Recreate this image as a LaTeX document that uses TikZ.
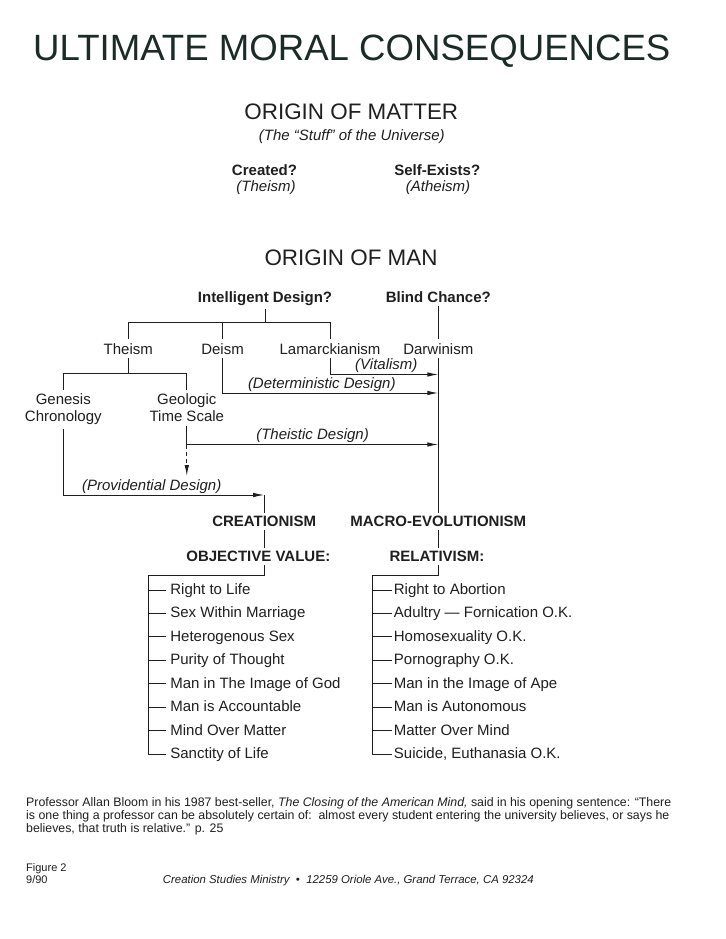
\documentclass[tikz,border=0pt]{standalone}
\usepackage{fontspec}
\setmainfont{Liberation Sans}
\usetikzlibrary{arrows.meta}

\definecolor{title ink}{HTML}{1B2B27}
\colorlet{ink}{black!88}
\def\bodysize{\fontsize{15}{16.7}\selectfont}
\tikzset{headline/.style={font=\fontsize{36.6}{40}\selectfont, text=title ink, anchor=base, inner sep=0pt},
    origin/.style={font=\fontsize{22.4}{26}\selectfont, anchor=base, inner sep=0pt},
    note/.style={font=\bodysize\itshape, anchor=base, inner sep=0pt},
    query/.style={font=\bodysize\bfseries, anchor=base, inner sep=3pt},
    branch/.style={font=\bodysize, anchor=base, inner sep=4pt},
    tag/.style={font=\bodysize\itshape, inner sep=1pt, above},
    value/.style={font=\bodysize, anchor=west, inner xsep=4.5pt, inner ysep=0pt, text height=11pt, text depth=2.4pt},
    link/.style={draw=ink, line width=1pt},
    flow/.style={link, -{Latex[length=11pt,width=4.5pt]}},
    small/.style={font=\fontsize{12.35}{13.4}\selectfont, inner sep=0pt}}

\begin{document}
\begin{tikzpicture}[x=1pt, y=-1pt, color=ink]
    \useasboundingbox[fill=white] (0,0) rectangle (725,939);

    \node[headline] (title) at (351.8,60.7) {ULTIMATE MORAL CONSEQUENCES};

    \node[origin] (matter) at (351.3,120) {ORIGIN OF MATTER};
    \node[note] (stuff) at (351.8,140.7) {(The “Stuff” of the Universe)};
    \node[query, inner sep=0pt] (created) at (264.5,175) {Created?};
    \node[note] (theist) at (266,191.7) {(Theism)};
    \node[query, inner sep=0pt] (selfexists) at (437.3,175) {Self-Exists?};
    \node[note] (atheist) at (438,191.7) {(Atheism)};

    \node[origin] (man) at (351,265) {ORIGIN OF MAN};
    \node[query] (design) at (265,302.7) {Intelligent Design?};
    \node[query] (chance) at (438.3,302.7) {Blind Chance?};

    \node[branch] (theism) at (128.3,354) {Theism};
    \node[branch] (deism) at (222.5,354) {Deism};
    \node[branch] (lamarck) at (330,354) {Lamarckianism};
    \node[branch] (darwin) at (438.3,354) {Darwinism};
    \node[branch, anchor=north, align=center] (genesis) at (63.3,389.9) {Genesis\\Chronology};
    \node[branch, anchor=north, align=center] (geologic) at (186.8,389.9) {Geologic\\Time Scale};

    \node[query] (creation) at (264.2,526.7) {CREATIONISM};
    \node[query] (macro) at (438.3,526.7) {MACRO-EVOLUTIONISM};
    \node[query] (objective) at (258.3,561.7) {OBJECTIVE VALUE:};
    \node[query] (relative) at (437,561.7) {RELATIVISM:};

    \coordinate (fork) at (265,322.7);
    \coordinate (split) at (128.3,373.3);
    \coordinate (vitalism) at (438.3,374.5);
    \coordinate (determinism) at (438.3,393);
    \coordinate (theistic) at (438.3,444.5);
    \coordinate (providence) at (186.8,476);
    \coordinate (creed) at (264.2,495);
    \coordinate (valfork) at (264.2,575);
    \coordinate (valroot) at (148.3,575);
    \coordinate (relfork) at (438.3,575);
    \coordinate (relroot) at (372.3,575);

    \draw[link] (design.south) -- (fork);
    \draw[link] (theism.north) |- (fork) -| (lamarck.north);
    \draw[link] (deism.north) -- (deism.north |- fork);
    \draw[link] (chance.south) -- (darwin.north);
    \draw[link] (darwin.south) -- (macro.north);
    \draw[link] (theism.south) -- (split);
    \draw[link] (genesis.north) |- (split) -| (geologic.north);

    \draw[flow] (lamarck.south) |- (vitalism) node[tag, pos=0.76] {(Vitalism)};
    \draw[flow] (deism.south) |- (determinism) node[tag, pos=0.73] {(Deterministic Design)};
    \draw[flow] (geologic.south) |- (theistic) node[tag, pos=0.75] {(Theistic Design)};
    \draw[flow, dash pattern=on 4pt off 3pt] (geologic.south |- theistic) -- (providence);
    \draw[flow] (genesis.south) |- (creed) node[tag, pos=0.72] {(Providential Design)};
    \draw[link] (creed) -- (creation.north);
    \draw[link] (creation.south) -- (creation.south |- objective.north);
    \draw[link] (macro.south) -- (relative.north -| macro.south);

    \foreach \txt [count=\i] in {Right to Life, Sex Within Marriage, Heterogenous Sex, Purity of Thought,
        Man in The Image of God, Man is Accountable, Mind Over Matter, Sanctity of Life}
        \node[value] (val\i) at (165.7,{590+23.47*(\i-1)}) {\txt};
    \foreach \txt [count=\i] in {Right to Abortion, Adultry — Fornication O.K., Homosexuality O.K., Pornography O.K.,
        Man in the Image of Ape, Man is Autonomous, Matter Over Mind, {Suicide, Euthanasia O.K.}}
        \node[value, inner xsep=2pt] (rel\i) at (391.7,{590+23.47*(\i-1)}) {\txt};

    \draw[link] (objective.south -| valfork) -- (valfork) -- (valroot) |- (val8.west);
    \draw[link] (relative.south -| relfork) -- (relfork) -- (relroot) |- (rel8.west);
    \foreach \i in {1,...,7} {
        \draw[link] (valroot |- val\i.west) -- (val\i.west);
        \draw[link] (relroot |- rel\i.west) -- (rel\i.west);
    }

    \node[small, anchor=north west, align=left] (bloom) at (26,797) {Professor Allan Bloom in his 1987 best-seller, \textit{The Closing of the American Mind,} said in his opening sentence: “There\\
        is one thing a professor can be absolutely certain of:\ \ almost every student entering the university believes, or says he\\
        believes, that truth is relative.” p. 25};
    \node[anchor=north west, align=left, font=\fontsize{11}{11.6}\selectfont, inner sep=0pt] (figno) at (26,863.7) {Figure 2\\9/90};
    \node[anchor=base west, font=\fontsize{11.4}{13}\selectfont\itshape, inner sep=0pt] (ministry) at (162.7,883.3)
        {Creation Studies Ministry\ \ \textbullet\ \ 12259 Oriole Ave., Grand Terrace, CA 92324};

\end{tikzpicture}
\end{document}
